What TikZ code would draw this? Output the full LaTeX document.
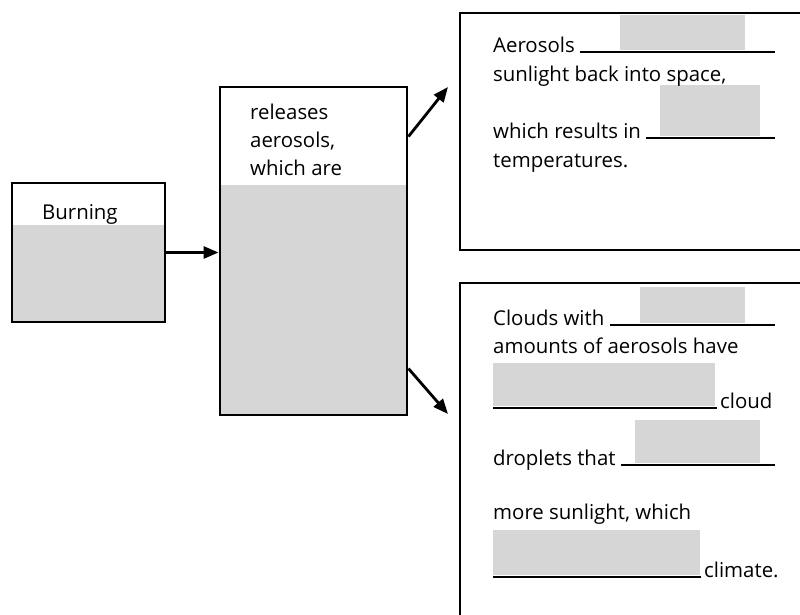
\documentclass[tikz,border=0pt]{standalone}
\usepackage{fontspec}
\setmainfont{Open Sans}
\usetikzlibrary{arrows.meta,calc}
\begin{document}
\begin{tikzpicture}[x=1pt,y=-1pt,
  box/.style={draw=black,line width=2.9pt,rectangle,inner sep=0pt},
  shade/.style={fill=black!16},
  txt/.style={anchor=base west,inner sep=0pt,font=\fontsize{20.4}{24}\selectfont},
  conn/.style={line width=2.8pt,-{Triangle[length=15pt,width=12pt]}},
  blank/.style={line width=1.6pt}]
\useasboundingbox (0,0) rectangle (800,614);
% shaded regions
\fill[shade] (12,225) rectangle (165,322);
\fill[shade] (220,185) rectangle (407,415);
\fill[shade] (620,15) rectangle (745,50);
\fill[shade] (660,85) rectangle (760,136);
\fill[shade] (640,287) rectangle (745,323);
\fill[shade] (493,363) rectangle (715,406);
\fill[shade] (635,420) rectangle (760,463);
\fill[shade] (493,530) rectangle (700,575);
% boxes
\node[box,minimum width=153pt,minimum height=139pt] (burn) at (88.5,252.5) {};
\node[box,minimum width=187pt,minimum height=328pt] (mid) at (313.5,251) {};
\node[box,minimum width=360pt,minimum height=237pt] (top) at (640,131.5) {};
\node[box,minimum width=360pt,minimum height=357pt] (bot) at (640,461.5) {};
% texts
\node[txt] (t1) at (42,219) {Burning};
\node[txt] (m1) at (250,119) {releases};
\node[txt] (m2) at (250,147) {aerosols,};
\node[txt] (m3) at (250,175) {which are};
\node[txt] (a1) at (493,52) {Aerosols};
\node[txt] (a2) at (493,81) {sunlight back into space,};
\node[txt] (a3) at (493,138) {which results in};
\node[txt] (a4) at (493,167) {temperatures.};
\node[txt] (b1) at (493,325) {Clouds with};
\node[txt] (b2) at (493,353) {amounts of aerosols have};
\node[txt] (b3) at (720,408) {cloud};
\node[txt] (b4) at (493,465) {droplets that};
\node[txt] (b5) at (493,519) {more sunlight, which};
\node[txt] (b6) at (704,577) {climate.};
% blanks
\draw[blank] ($(a1.base east)+(5,0)$) -- (775,52);
\draw[blank] ($(a3.base east)+(5,0)$) -- (775,138);
\draw[blank] ($(b1.base east)+(5,0)$) -- (775,325);
\draw[blank] (493,408) -- ($(b3.base west)+(-3,0)$);
\draw[blank] ($(b4.base east)+(5,0)$) -- (775,465);
\draw[blank] (493,577) -- ($(b6.base west)+(-3,0)$);
% connectors
\coordinate (up) at (448,87);
\coordinate (dn) at (448,414);
\draw[conn] (burn.east) -- (burn.east -| mid.west);
\draw[conn] ($(mid.north east)+(0,51)$) -- (up);
\draw[conn] ($(mid.north east)+(0,283)$) -- (dn);
\end{tikzpicture}
\end{document}
